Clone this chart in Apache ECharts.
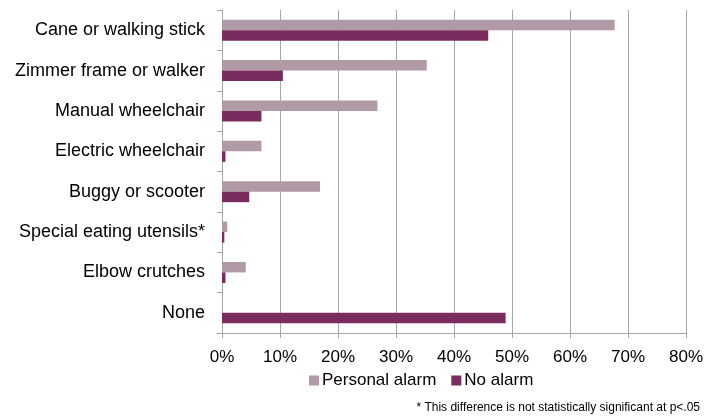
<!DOCTYPE html>
<html><head><meta charset="utf-8">
<script src="https://cdn.jsdelivr.net/npm/echarts@6/dist/echarts.min.js"></script>
<style>html,body{margin:0;padding:0;background:#fff}#c{width:726px;height:420px}</style>
</head><body><div id="c"></div>
<script>
const categories = ["Cane or walking stick","Zimmer frame or walker","Manual wheelchair","Electric wheelchair","Buggy or scooter","Special eating utensils*","Elbow crutches","None"];
const personalAlarm = [67.7, 35.3, 26.8, 6.8, 16.9, 0.9, 4.1, 0];
const noAlarm = [45.9, 10.5, 6.8, 0.6, 4.7, 0.4, 0.6, 48.9];
const footnote = "* This difference is not statistically significant at p<.05";
const font = "Liberation Sans, Arial, sans-serif";
const chart = echarts.init(document.getElementById('c'));
chart.setOption({
  animation: false,
  textStyle: {fontFamily: font},
  grid: {left: 222, right: 40, top: 10, bottom: 87, containLabel: false},
  legend: {
    data: ["Personal alarm","No alarm"], left: 304, top: 367,
    itemWidth: 10, itemHeight: 10, itemGap: 15, icon: 'rect',
    textStyle: {fontSize: 17, color: '#000', fontFamily: font, padding: [0,0,0,-2]}
  },
  graphic: [{type: 'text', right: 26, top: 402, style: {text: footnote, font: '12px ' + font, fill: '#000'}}],
  xAxis: {
    type: 'value', min: 0, max: 80, interval: 10,
    axisLabel: {formatter: '{value}%', fontSize: 17, color: '#000', margin: 16, fontFamily: font},
    splitLine: {show: true, lineStyle: {color: '#a6a6a6', width: 1}},
    axisLine: {show: true, lineStyle: {color: '#a6a6a6'}},
    axisTick: {show: true, length: 5, lineStyle: {color: '#a6a6a6'}}
  },
  yAxis: {
    type: 'category', data: categories, inverse: true,
    axisLabel: {fontSize: 18, color: '#000', margin: 17, fontFamily: font},
    axisLine: {show: true, lineStyle: {color: '#a6a6a6'}},
    axisTick: {show: true, length: 5, lineStyle: {color: '#a6a6a6'}}
  },
  series: [
    {name: "Personal alarm", type: 'bar', data: personalAlarm, barWidth: 10.5, barGap: '0%',
     itemStyle: {color: '#b09aa6'}},
    {name: "No alarm", type: 'bar', data: noAlarm, barWidth: 10.5, barGap: '0%',
     itemStyle: {color: '#7a2c5e'}}
  ]
});
</script></body></html>
